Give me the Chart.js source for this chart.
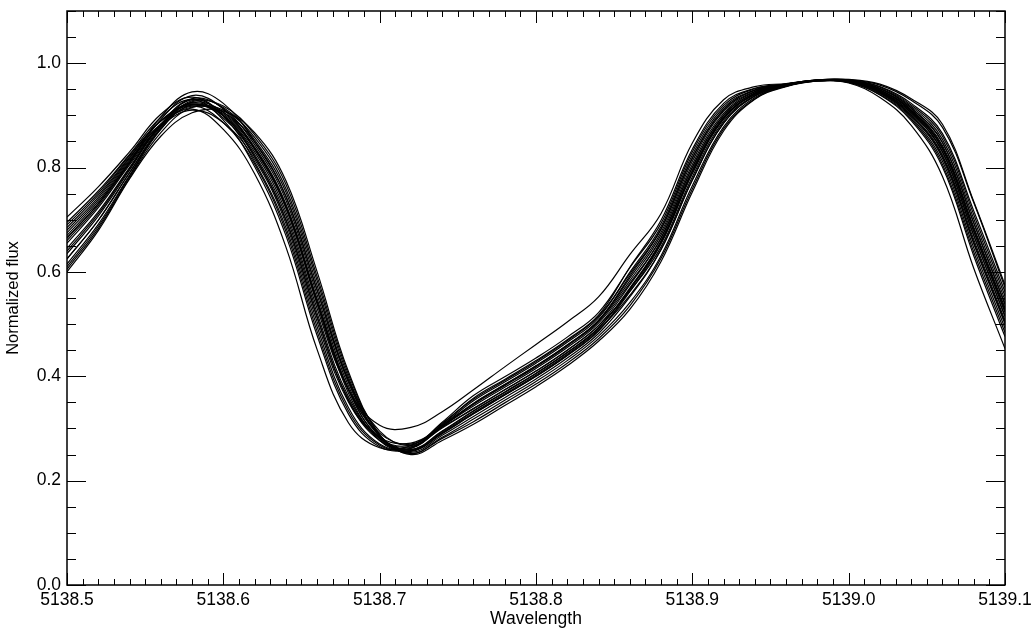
<!DOCTYPE html>
<html>
<head>
<meta charset="utf-8">
<script src="https://cdn.jsdelivr.net/npm/chart.js"></script>
<style>
  html, body { margin: 0; padding: 0; background: #fff; }
  canvas { display: block; }
</style>
</head>
<body>
<canvas id="fluxChart" width="1032" height="634"></canvas>
<script>
// wavelength grid (Angstrom), one sample every 0.02
const wavelength = [
  5138.50, 5138.52, 5138.54, 5138.56, 5138.58, 5138.60, 5138.62, 5138.64,
  5138.66, 5138.68, 5138.70, 5138.72, 5138.74, 5138.76, 5138.78, 5138.80,
  5138.82, 5138.84, 5138.86, 5138.88, 5138.90, 5138.92, 5138.94, 5138.96,
  5138.98, 5139.00, 5139.02, 5139.04, 5139.06, 5139.08, 5139.10
];

// normalized flux, one profile per observation
const obs01 = [0.695,0.755,0.825,0.896,0.930,0.891,0.802,0.670,0.478,0.328,0.265,0.262,0.308,0.358,0.394,0.430,0.470,0.517,0.609,0.699,0.835,0.923,0.952,0.960,0.967,0.967,0.952,0.917,0.854,0.702,0.546];
const obs02 = [0.605,0.683,0.780,0.867,0.915,0.910,0.858,0.760,0.583,0.398,0.285,0.252,0.283,0.318,0.354,0.390,0.430,0.477,0.541,0.631,0.765,0.878,0.934,0.956,0.966,0.963,0.940,0.893,0.806,0.638,0.484];
const obs03 = [0.665,0.731,0.810,0.897,0.945,0.923,0.849,0.745,0.565,0.393,0.295,0.267,0.301,0.338,0.374,0.410,0.450,0.497,0.575,0.665,0.800,0.900,0.943,0.959,0.968,0.968,0.958,0.929,0.877,0.733,0.570];
const obs04 = [0.625,0.699,0.790,0.874,0.920,0.899,0.830,0.715,0.530,0.375,0.306,0.302,0.332,0.374,0.418,0.461,0.504,0.552,0.633,0.712,0.847,0.930,0.955,0.961,0.967,0.965,0.946,0.905,0.830,0.670,0.515];
const obs05 = [0.645,0.715,0.800,0.882,0.925,0.906,0.839,0.730,0.548,0.375,0.280,0.257,0.291,0.328,0.364,0.400,0.440,0.487,0.562,0.654,0.788,0.893,0.940,0.957,0.967,0.964,0.943,0.899,0.818,0.654,0.500];
const obs06 = [0.675,0.739,0.815,0.883,0.912,0.873,0.788,0.648,0.451,0.311,0.263,0.267,0.306,0.348,0.384,0.420,0.460,0.507,0.588,0.676,0.812,0.908,0.946,0.959,0.966,0.962,0.934,0.881,0.783,0.607,0.453];
const obs07 = [0.600,0.679,0.778,0.860,0.905,0.908,0.867,0.775,0.600,0.409,0.288,0.250,0.277,0.308,0.344,0.380,0.420,0.467,0.528,0.620,0.753,0.870,0.931,0.955,0.966,0.966,0.949,0.911,0.842,0.686,0.531];
const obs08 = [0.705,0.763,0.830,0.902,0.935,0.899,0.811,0.685,0.495,0.340,0.270,0.262,0.306,0.353,0.389,0.425,0.465,0.512,0.599,0.687,0.824,0.915,0.949,0.960,0.968,0.968,0.955,0.923,0.865,0.717,0.562];
const obs09 = [0.655,0.723,0.805,0.880,0.918,0.900,0.835,0.723,0.539,0.375,0.291,0.270,0.305,0.343,0.379,0.415,0.455,0.502,0.578,0.665,0.800,0.900,0.943,0.958,0.967,0.965,0.946,0.905,0.830,0.670,0.515];
const obs10 = [0.615,0.691,0.785,0.876,0.928,0.915,0.853,0.753,0.574,0.392,0.285,0.254,0.287,0.323,0.359,0.395,0.435,0.482,0.552,0.643,0.776,0.885,0.937,0.957,0.967,0.966,0.951,0.914,0.848,0.694,0.538];
const obs11 = [0.685,0.747,0.820,0.890,0.922,0.895,0.821,0.700,0.513,0.354,0.277,0.264,0.312,0.363,0.399,0.435,0.475,0.522,0.608,0.693,0.830,0.919,0.951,0.960,0.967,0.964,0.942,0.896,0.812,0.646,0.492];
const obs12 = [0.635,0.707,0.795,0.883,0.932,0.913,0.844,0.738,0.556,0.382,0.285,0.259,0.294,0.333,0.369,0.405,0.445,0.492,0.569,0.659,0.794,0.896,0.941,0.958,0.967,0.965,0.948,0.908,0.836,0.678,0.523];
const obs13 = [0.665,0.731,0.810,0.879,0.910,0.886,0.816,0.693,0.504,0.351,0.283,0.272,0.303,0.338,0.374,0.410,0.450,0.497,0.563,0.648,0.782,0.889,0.938,0.957,0.966,0.963,0.939,0.890,0.801,0.631,0.476];
const obs14 = [0.610,0.687,0.783,0.873,0.926,0.918,0.863,0.768,0.591,0.404,0.288,0.252,0.281,0.313,0.349,0.385,0.425,0.472,0.535,0.626,0.759,0.874,0.932,0.956,0.967,0.967,0.954,0.920,0.860,0.710,0.554];
const obs15 = [0.690,0.751,0.823,0.889,0.918,0.886,0.807,0.678,0.486,0.334,0.268,0.262,0.303,0.348,0.384,0.420,0.460,0.507,0.592,0.682,0.818,0.911,0.948,0.959,0.967,0.965,0.945,0.902,0.824,0.662,0.507];
const obs16 = [0.660,0.727,0.808,0.892,0.938,0.912,0.835,0.723,0.539,0.368,0.277,0.256,0.290,0.328,0.364,0.400,0.440,0.487,0.566,0.659,0.794,0.896,0.941,0.959,0.968,0.969,0.960,0.932,0.883,0.735,0.575];
const obs17 = [0.640,0.711,0.798,0.880,0.924,0.899,0.825,0.708,0.521,0.361,0.281,0.265,0.304,0.346,0.382,0.418,0.458,0.505,0.583,0.671,0.806,0.904,0.945,0.959,0.967,0.966,0.948,0.910,0.839,0.683,0.527];
const obs18 = [0.670,0.735,0.813,0.883,0.916,0.906,0.849,0.745,0.565,0.388,0.286,0.258,0.292,0.330,0.366,0.402,0.442,0.489,0.555,0.643,0.776,0.885,0.937,0.957,0.966,0.964,0.944,0.900,0.821,0.657,0.503];
const obs19 = [0.625,0.699,0.790,0.879,0.930,0.900,0.821,0.700,0.513,0.356,0.281,0.268,0.310,0.356,0.392,0.428,0.468,0.515,0.596,0.682,0.818,0.911,0.948,0.959,0.967,0.965,0.948,0.908,0.836,0.678,0.523];
const obs20 = [0.680,0.743,0.818,0.889,0.921,0.903,0.837,0.727,0.544,0.374,0.282,0.260,0.295,0.334,0.370,0.406,0.446,0.493,0.567,0.656,0.791,0.894,0.941,0.958,0.967,0.966,0.951,0.914,0.848,0.694,0.538];

const profiles = [obs01, obs02, obs03, obs04, obs05, obs06, obs07, obs08, obs09, obs10,
                  obs11, obs12, obs13, obs14, obs15, obs16, obs17, obs18, obs19, obs20];

// axis ticks
const xTicks = [5138.5, 5138.6, 5138.7, 5138.8, 5138.9, 5139.0, 5139.1];
const yTicks = [0.0, 0.2, 0.4, 0.6, 0.8, 1.0];
const xMinorStep = 0.01;
const yMinorStep = 0.05;

const FONT = "'Liberation Sans', Arial, Helvetica, sans-serif";

// IDL-style box: frame on all four sides, tick marks pointing inwards
const boxAxes = {
  id: 'boxAxes',
  afterDatasetsDraw(chart) {
    const { ctx, chartArea: a, scales: { x, y } } = chart;
    ctx.save();
    ctx.strokeStyle = '#000';
    ctx.lineWidth = 1;

    const tickX = (v, len) => {
      const px = Math.round(x.getPixelForValue(v)) + 0.5;
      ctx.moveTo(px, a.bottom); ctx.lineTo(px, a.bottom - len);
      ctx.moveTo(px, a.top); ctx.lineTo(px, a.top + len);
    };
    const tickY = (v, len) => {
      const py = Math.round(y.getPixelForValue(v)) + 0.5;
      ctx.moveTo(a.left, py); ctx.lineTo(a.left + len, py);
      ctx.moveTo(a.right, py); ctx.lineTo(a.right - len, py);
    };

    ctx.beginPath();
    const nx = Math.round((x.max - x.min) / xMinorStep);
    for (let i = 0; i <= nx; i++) {
      const v = x.min + i * xMinorStep;
      const major = xTicks.some(t => Math.abs(t - v) < 1e-6);
      tickX(v, major ? 12 : 6);
    }
    const ny = Math.floor((y.max - y.min) / yMinorStep + 1e-6);
    for (let i = 0; i <= ny; i++) {
      const v = y.min + i * yMinorStep;
      const major = yTicks.some(t => Math.abs(t - v) < 1e-6);
      tickY(v, major ? 19 : 9);
    }
    ctx.stroke();

    ctx.lineWidth = 1.5;
    ctx.strokeRect(a.left, a.top, a.right - a.left, a.bottom - a.top);
    ctx.restore();
  }
};

new Chart(document.getElementById('fluxChart'), {
  type: 'line',
  data: {
    datasets: profiles.map(p => ({
      data: wavelength.map((w, i) => ({ x: w, y: p[i] })),
      borderColor: '#000',
      borderWidth: 1.2,
      pointRadius: 0,
      tension: 0.4,
      fill: false
    }))
  },
  options: {
    responsive: false,
    animation: false,
    events: [],
    layout: { padding: { left: 0, top: 11, right: 27, bottom: 0 } },
    plugins: { legend: { display: false }, tooltip: { enabled: false } },
    scales: {
      x: {
        type: 'linear',
        min: 5138.5,
        max: 5139.1,
        afterBuildTicks: s => { s.ticks = xTicks.map(v => ({ value: v })); },
        afterFit: s => { s.height = 49; s.paddingLeft = 0; s.paddingRight = 0; },
        grid: { display: false, drawTicks: false },
        border: { display: false },
        ticks: {
          padding: 5,
          maxRotation: 0,
          color: '#000',
          font: { family: FONT, size: 17.5 },
          callback: v => v.toFixed(1)
        },
        title: {
          display: true,
          text: 'Wavelength',
          color: '#000',
          font: { family: FONT, size: 17.5 },
          padding: { top: 0, bottom: 4 }
        }
      },
      y: {
        min: 0,
        max: 1.1,
        afterBuildTicks: s => { s.ticks = yTicks.map(v => ({ value: v })); },
        afterFit: s => { s.width = 67; s.paddingTop = 0; s.paddingBottom = 0; },
        grid: { display: false, drawTicks: false },
        border: { display: false },
        ticks: {
          padding: 6,
          color: '#000',
          font: { family: FONT, size: 17.5 },
          callback: v => v.toFixed(1)
        },
        title: {
          display: true,
          text: 'Normalized flux',
          color: '#000',
          font: { family: FONT, size: 16.5 },
          padding: { top: 4, bottom: 0 }
        }
      }
    }
  },
  plugins: [boxAxes]
});
</script>
</body>
</html>
